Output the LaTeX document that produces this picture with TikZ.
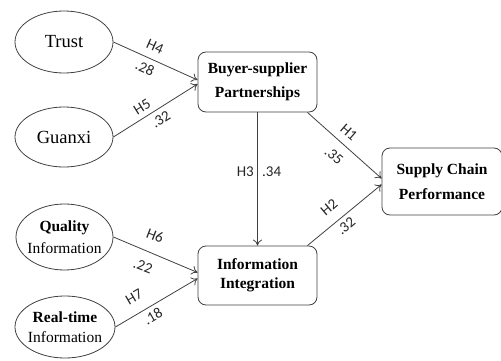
\documentclass[tikz,border=0pt]{standalone}
\usepackage{fontspec}
\setmainfont{Liberation Serif}
\newfontfamily\labfont{Carlito}
\usetikzlibrary{shapes.geometric,arrows.meta}
\definecolor{linegray}{HTML}{404040}
\newcommand\zbx[1]{\makebox[0pt]{#1}}
\begin{document}
\begin{tikzpicture}[x=1pt,y=1pt,
  ovalnode/.style={ellipse, draw=linegray, line width=0.8pt, inner sep=0pt, align=center, text=black},
  boxnode/.style={rectangle, rounded corners=8pt, draw=linegray, line width=0.8pt, align=center, text=black, font=\bfseries\fontsize{15.5}{24}\selectfont},
  conn/.style={draw=linegray, line width=0.8pt, -{To[length=6pt,width=9pt]}},
  labtext/.style={font=\labfont\fontsize{15}{17}\selectfont, inner sep=0pt, text=black!85}]
\useasboundingbox (0,0) rectangle (501,360);

% ellipses
\node[ovalnode, minimum width=98pt, minimum height=62pt, font=\fontsize{18.5}{20}\selectfont] (trust) at (64,318) {\zbx{Trust}};
\node[ovalnode, minimum width=98pt, minimum height=60pt, font=\fontsize{18.5}{20}\selectfont] (guanxi) at (64,223) {\zbx{Guanxi}};
\node[ovalnode, minimum width=97pt, minimum height=66pt, font=\fontsize{15.5}{22}\selectfont] (quality) at (64.5,123) {\zbx{\textbf{Quality}}\\\zbx{Information}};
\node[ovalnode, minimum width=100pt, minimum height=62pt, font=\fontsize{15.5}{20}\selectfont] (realtime) at (65,33) {\zbx{\textbf{Real-time}}\\\zbx{Information}};

% boxes
\node[boxnode, minimum width=119pt, minimum height=60pt] (bsp) at (257.5,278) {Buyer-supplier\\Partnerships};
\node[boxnode, minimum width=120pt, minimum height=67pt, font=\bfseries\fontsize{15.5}{25}\selectfont] (scp) at (442,178.5) {Supply Chain\\Performance};
\node[boxnode, minimum width=119pt, minimum height=59pt, font=\bfseries\fontsize{15.5}{18.5}\selectfont] (ii) at (257.5,84.5) {Information\\Integration};

% connectors
\draw[conn] (trust.east) -- ([yshift=2pt]bsp.west);
\draw[conn] (guanxi.east) -- ([yshift=-2pt]bsp.west);
\draw[conn] ([xshift=-10pt]bsp.south east) -- ([yshift=3pt]scp.west);
\draw[conn] ([xshift=-10pt]ii.north east) -- ([yshift=-3pt]scp.west);
\draw[conn] (bsp.south) -- (ii.north);
\draw[conn] (quality.east) -- ([yshift=3pt]ii.west);
\draw[conn] (realtime.east) -- ([yshift=-3pt]ii.west);

% labels
\node[labtext, rotate=-24] (h4) at (155,313) {H4};
\node[labtext, rotate=-24] (c28) at (145,292) {.28};
\node[labtext, rotate=32] (h5) at (142,253) {H5};
\node[labtext, rotate=32] (c32a) at (161,241) {.32};
\node[labtext, rotate=-41] (h1) at (349,228) {H1};
\node[labtext, rotate=-41] (c35) at (334,204) {.35};
\node[labtext, anchor=east] (h3) at (254,188) {H3};
\node[labtext, anchor=west] (c34) at (262,188) {.34};
\node[labtext, rotate=40] (h2) at (329,153) {H2};
\node[labtext, rotate=40] (c32b) at (346,134) {.32};
\node[labtext, rotate=-21] (h6) at (155,124) {H6};
\node[labtext, rotate=-21] (c22) at (143,94) {.22};
\node[labtext, rotate=30] (h7) at (134,63) {H7};
\node[labtext, rotate=30] (c18) at (153,44) {.18};
\end{tikzpicture}
\end{document}
